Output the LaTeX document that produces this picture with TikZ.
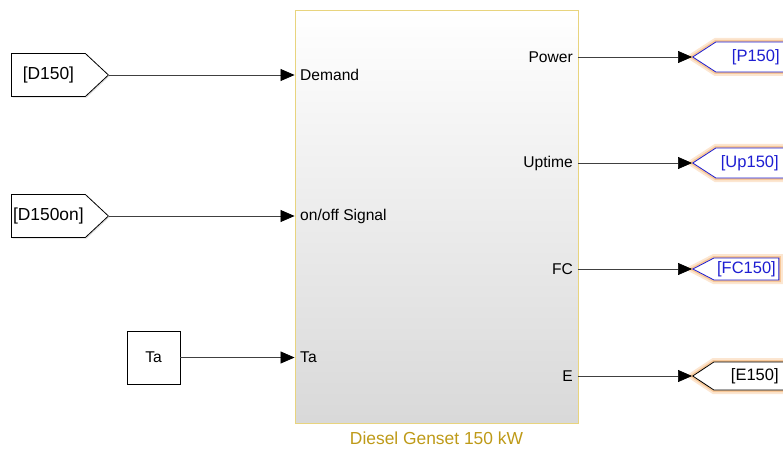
\documentclass[tikz,border=0pt]{standalone}
\usepackage{fontspec}
\setmainfont{Liberation Sans}
\usetikzlibrary{arrows.meta,shapes.symbols,shadows}

\definecolor{blkedge}{HTML}{E8D47E}
\definecolor{blkname}{HTML}{BE9A18}
\definecolor{tagblue}{HTML}{1E1ED2}
\definecolor{tagglow}{HTML}{F8C898}

\tikzset{
  sig/.style={draw=black!75,line width=0.7pt,-{Triangle[length=14pt,width=12pt,black]}},
  portlbl/.style={font=\fontsize{15.6}{18}\selectfont,inner sep=0pt},
  tagfont/.style={font=\fontsize{16.5}{20}\selectfont},
  fromtag/.style={font=\fontsize{17.4}{20}\selectfont,signal,signal to=east,signal pointer angle=86,draw,line width=0.8pt,
    fill=white,minimum width=97,minimum height=43,inner sep=1pt,
    drop shadow={opacity=0.25,shadow xshift=1.2pt,shadow yshift=-1.2pt}},
  gototag/.style={tagfont,signal,signal to=west,line width=0.8pt,fill=white,inner sep=1pt,
    preaction={draw=tagglow!45,line width=8pt},
    preaction={draw=tagglow,line width=4pt}},
  bluetag/.style={gototag,draw=tagblue,text=tagblue},
  blacktag/.style={gototag,draw=black},
  padright/.style={execute at end node={\hspace*{#1}}},
  constblk/.style={draw,line width=0.8pt,fill=white,minimum size=53,font=\fontsize{15.6}{18}\selectfont,
    drop shadow={opacity=0.25,shadow xshift=1.2pt,shadow yshift=-1.2pt}},
  genblk/.style={draw=blkedge,line width=0.9pt,minimum width=283,minimum height=413,
    top color=white,middle color=black!4,bottom color=black!15,
    drop shadow={opacity=0.2,shadow xshift=1.2pt,shadow yshift=-1.2pt}}
}

\begin{document}
\begin{tikzpicture}[x=1pt,y=-1pt]
\useasboundingbox (0,0) rectangle (783,449);
\clip (0,0) rectangle (783,449);

% subsystem
\node[genblk] (gen) at (436.5,216.5) {};
\node[font=\fontsize{17.4}{20}\selectfont,text=blkname] (genname) at (436.5,438) {Diesel Genset 150 kW};

% input ports
\node[portlbl,anchor=west] (inDemand) at (300,75) {Demand};
\node[portlbl,anchor=west] (inOnOff) at (300,216) {on/off Signal};
\node[portlbl,anchor=west] (inTa) at (300,357) {Ta};

% output ports
\node[portlbl,anchor=east] (outPower) at (573,57) {Power};
\node[portlbl,anchor=east] (outUptime) at (573,163) {Uptime};
\node[portlbl,anchor=east] (outFC) at (573,269) {FC};
\node[portlbl,anchor=east] (outE) at (573,376) {E};

% sources
\node[fromtag,anchor=east] (fromD) at (109,75) {[D150]};
\node[fromtag,anchor=east] (fromDon) at (109,216) {[D150on]};
\node[constblk] (constTa) at (153.5,357.5) {Ta};

% goto tags
\node[bluetag,anchor=west,signal pointer angle=66,minimum width=103,minimum height=30] (gotoP) at (692,57) {[P150]};
\node[bluetag,anchor=west,signal pointer angle=66,minimum width=100,minimum height=30,padright=9pt] (gotoUp) at (692,163) {[Up150]};
\node[bluetag,anchor=west,signal pointer angle=55,minimum width=86,minimum height=22] (gotoFC) at (692,269) {[FC150]};
\node[blacktag,anchor=west,signal pointer angle=67,minimum width=103,minimum height=28] (gotoE) at (692,376) {[E150]};

% signals in
\draw[sig] (fromD.east) -- (fromD.east -| gen.west);
\draw[sig] (fromDon.east) -- (fromDon.east -| gen.west);
\draw[sig] (constTa.east) -- (constTa.east -| gen.west);

% signals out
\draw[sig] (outPower.east -| gen.east) -- (gotoP.west);
\draw[sig] (outUptime.east -| gen.east) -- (gotoUp.west);
\draw[sig] (outFC.east -| gen.east) -- (gotoFC.west);
\draw[sig] (outE.east -| gen.east) -- (gotoE.west);
\end{tikzpicture}
\end{document}
